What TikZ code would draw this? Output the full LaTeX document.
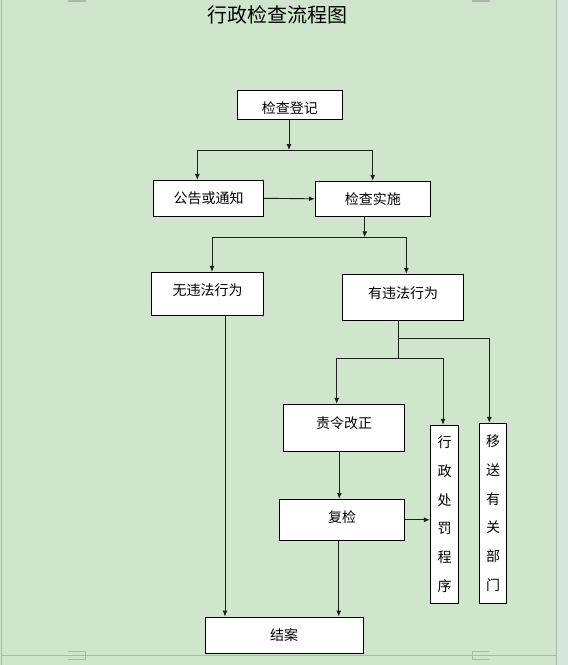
\documentclass[tikz,border=0pt]{standalone}
\usepackage{fontspec}
\setmainfont{Noto Sans CJK SC}
\newfontfamily\cjk{Noto Sans CJK SC}
\usetikzlibrary{arrows.meta}
\definecolor{bggreen}{RGB}{207,230,204}
\definecolor{sidegreen}{RGB}{213,230,218}
\definecolor{framegray}{RGB}{178,180,178}
\definecolor{linecol}{RGB}{30,30,30}
\tikzset{
  boxnode/.style={draw=black, fill=white, line width=0.9pt, inner sep=0pt, font=\cjk\fontsize{14}{16}\selectfont},
  vbox/.style={draw=black, fill=white, line width=0.9pt, inner sep=0pt, align=center, font=\cjk\fontsize{14}{28.7}\selectfont},
  conn/.style={draw=linecol, line width=0.9pt},
  arr/.style={conn, -{Latex[length=6pt,width=5pt]}},
  frameline/.style={draw=framegray, line width=1pt},
}
\begin{document}
\begin{tikzpicture}[x=1pt,y=-1pt]
% background and page frame
\fill[bggreen] (0,0) rectangle (568,665);
\useasboundingbox (0,0) rectangle (568,665);
\fill[sidegreen] (556.7,0) rectangle (568,665);
\draw[frameline] (1.5,0) -- (1.5,665);
\draw[frameline] (556,0) -- (556,665);
\draw[frameline] (1.5,655.5) -- (556,655.5);
\fill[framegray] (68,0) rectangle (85.5,1.6);
\fill[framegray] (472,0) rectangle (489.5,1.6);
\draw[frameline, line width=0.8pt] (68,651) -- (85.7,651) -- (85.7,659.3) -- (68,659.3);
\draw[frameline, line width=0.8pt] (489,651) -- (472,651) -- (472,659.3) -- (489,659.3);

% title
\node[font=\cjk\fontsize{20}{22}\selectfont, text=black] (title) at (277.5,15) {行政检查流程图};

% boxes
\node[boxnode, minimum width=105pt, minimum height=29pt, label={[name=regT, yshift=-3.5pt, font=\cjk\fontsize{14}{16}\selectfont]center:检查登记}] (reg) at (289.8,104.8) {};
\node[boxnode, minimum width=110.4pt, minimum height=36pt] (notice) at (208.5,198.3) {公告或通知};
\node[boxnode, minimum width=115pt, minimum height=35pt] (impl) at (372.8,198.8) {检查实施};
\node[boxnode, minimum width=112pt, minimum height=43pt, label={[name=novT, yshift=3.8pt, font=\cjk\fontsize{14}{16}\selectfont]center:无违法行为}] (nov) at (207.7,293.8) {};
\node[boxnode, minimum width=120.6pt, minimum height=46pt, label={[name=vioT, yshift=4.5pt, font=\cjk\fontsize{14}{16}\selectfont]center:有违法行为}] (vio) at (403,297.3) {};
\node[boxnode, minimum width=121.4pt, minimum height=47pt, label={[name=orderT, yshift=5pt, font=\cjk\fontsize{14}{16}\selectfont]center:责令改正}] (order) at (344,427.8) {};
\node[boxnode, minimum width=125.4pt, minimum height=41pt, label={[name=recheckT, yshift=2.5pt, font=\cjk\fontsize{14}{16}\selectfont]center:复检}] (recheck) at (342,519.8) {};
\node[boxnode, minimum width=158pt, minimum height=36pt] (close) at (284.2,635) {结案};
\node[vbox, minimum width=28.4pt, minimum height=178pt] (xzcf) at (444.5,514.3) {行\\政\\处\\罚\\程\\序};
\node[vbox, minimum width=27.4pt, minimum height=180pt] (ysbm) at (493,513.3) {移\\送\\有\\关\\部\\门};

% junction coordinates
\coordinate (j1) at (289,150);
\coordinate (j1l) at (197.3,150);
\coordinate (j1r) at (372.7,150);
\coordinate (j2) at (364.7,237.3);
\coordinate (j2l) at (212,237.3);
\coordinate (j2r) at (406.3,237.3);
\coordinate (j3a) at (398.3,338.3);
\coordinate (j3ar) at (489.3,338.3);
\coordinate (j3) at (398.3,358.3);
\coordinate (j3l) at (336.7,358.3);
\coordinate (j3r) at (443,358.3);
\coordinate (n1) at (225,320);
\coordinate (r1) at (339.3,450);
\coordinate (r2) at (338.7,540);

% connectors
\draw[arr] (reg.south -| j1) -- (j1);
\draw[conn] (j1l) -- (j1r);
\draw[arr] (j1l) -- (j1l |- notice.north);
\draw[arr] (j1r) -- (j1r |- impl.north);
\draw[arr] (notice.east) -- (impl.west);
\draw[arr] (impl.south -| j2) -- (j2);
\draw[conn] (j2l) -- (j2r);
\draw[arr] (j2l) -- (j2l |- nov.north);
\draw[arr] (j2r) -- (j2r |- vio.north);
\draw[arr] (nov.south -| n1) -- (n1 |- close.north);
\draw[conn] (vio.south -| j3) -- (j3);
\draw[conn] (j3a) -- (j3ar);
\draw[arr] (j3ar) -- (j3ar |- ysbm.north);
\draw[conn] (j3l) -- (j3r);
\draw[arr] (j3l) -- (j3l |- order.north);
\draw[arr] (j3r) -- (j3r |- xzcf.north);
\draw[arr] (order.south -| r1) -- (r1 |- recheck.north);
\draw[arr] (recheck.east) -- (recheck.east -| xzcf.west);
\draw[arr] (recheck.south -| r2) -- (r2 |- close.north);
\end{tikzpicture}
\end{document}
